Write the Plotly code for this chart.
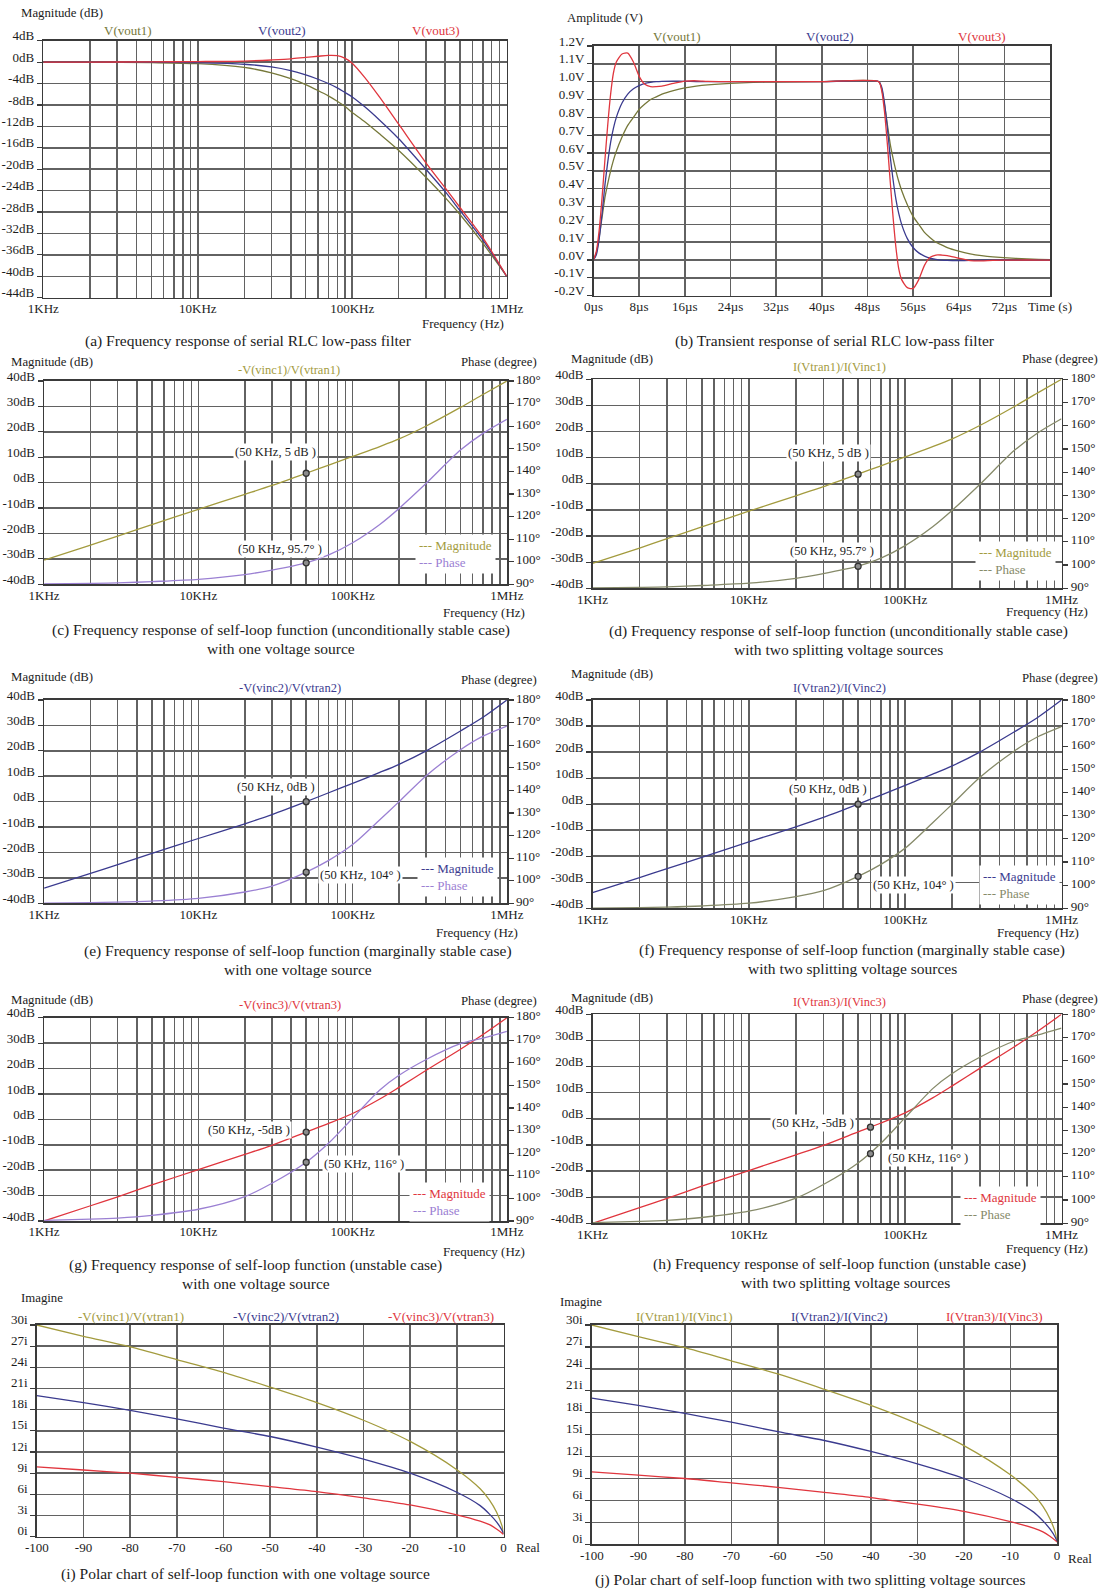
import plotly.graph_objects as go

W, H = 1105, 1589
FONT = "Liberation Serif"

C_OLIVE_A = "#76783a"
C_OLIVE = "#a39b3e"
C_NAVY = "#3b3b8f"
C_RED = "#e0363e"
C_PURPLE = "#9b80d3"
C_GOLIVE = "#868a69"
C_GRID = "#626262"
C_AXIS = "#3a3a3a"
C_TXT = "#1c1c1c"
CAP = 15.5

# ---------------- data ----------------
# (a) serial RLC low-pass, magnitude (dB)
a_freq = [1e3, 2e3, 5e3, 1e4, 2e4, 3e4, 4e4, 5e4, 6e4, 7e4, 8e4, 9e4, 1e5, 1.2e5, 1.5e5, 2e5, 3e5, 4e5, 5e5, 7e5, 1e6]
a_vout1 = [0, 0, -0.1, -0.3, -1.0, -2.0, -3.1, -4.2, -5.3, -6.3, -7.3, -8.3, -9.4, -11.1, -13.4, -16.5, -21.5, -25.3, -28.5, -33.8, -40]
a_vout2 = [0, 0, 0, -0.1, -0.4, -0.9, -1.6, -2.4, -3.2, -4.0, -4.8, -5.7, -6.5, -8.3, -10.8, -14.3, -20.0, -24.2, -27.8, -33.2, -40]
a_vout3 = [0, 0, 0.05, 0.1, 0.2, 0.4, 0.6, 0.9, 1.1, 1.25, 1.2, 0.7, -0.2, -2.8, -6.5, -11.6, -18.8, -23.5, -27.2, -32.8, -40]
a_yticks = [-44, -40, -36, -32, -28, -24, -20, -16, -12, -8, -4, 0, 4]
a_ytext = ["-44dB", "-40dB", "-36dB", "-32dB", "-28dB", "-24dB", "-20dB", "-16dB", "-12dB", "-8dB", "-4dB", "0dB", "4dB"]

# (b) transient response (V) vs time (us)
b_time = [0, 0.5, 1, 1.5, 2, 2.5, 3, 3.5, 4, 5, 6, 7, 8, 9, 10, 11, 12, 14, 16, 18, 20, 24, 28, 32, 40, 50,
          50.5, 51, 51.5, 52, 52.5, 53, 53.5, 54, 55, 56, 57, 58, 59, 60, 61, 62, 64, 66, 68, 70, 74, 78, 80]
b_vout1 = [0, 0.04, 0.13, 0.24, 0.35, 0.43, 0.5, 0.56, 0.61, 0.69, 0.755, 0.80, 0.845, 0.875, 0.9, 0.915, 0.93,
           0.95, 0.965, 0.975, 0.982, 0.991, 0.996, 0.998, 1.0, 1.0,
           0.96, 0.87, 0.76, 0.65, 0.57, 0.5, 0.44, 0.39, 0.31, 0.245, 0.2, 0.155, 0.125, 0.1, 0.085, 0.07,
           0.05, 0.035, 0.025, 0.018, 0.009, 0.004, 0.002]
b_vout2 = [0, 0.03, 0.12, 0.26, 0.42, 0.55, 0.66, 0.74, 0.80, 0.88, 0.93, 0.96, 0.978, 0.99, 0.996, 1.0, 1.002,
           1.003, 1.002, 1.001, 1.0, 1.0, 1.0, 1.0, 1.0, 1.0,
           0.97, 0.88, 0.74, 0.58, 0.45, 0.34, 0.26, 0.2, 0.12, 0.07, 0.04, 0.022, 0.01, 0.004, 0.0, -0.002,
           -0.003, -0.002, -0.001, 0.0, 0.0, 0.0, 0.0]
b_vout3 = [0, 0.05, 0.17, 0.35, 0.56, 0.76, 0.93, 1.05, 1.11, 1.155, 1.16, 1.11, 1.03, 0.985, 0.972, 0.972, 0.975,
           0.99, 1.003, 1.005, 1.002, 1.0, 1.0, 1.0, 1.0, 1.0,
           0.95, 0.83, 0.65, 0.44, 0.24, 0.07, -0.05, -0.11, -0.155, -0.16, -0.11, -0.03, 0.015, 0.028, 0.028, 0.025,
           0.01, -0.003, -0.005, -0.002, 0.0, 0.0, 0.0]
b_yticks = [-0.2, -0.1, 0.0, 0.1, 0.2, 0.3, 0.4, 0.5, 0.6, 0.7, 0.8, 0.9, 1.0, 1.1, 1.2]
b_ytext = ["-0.2V", "-0.1V", "0.0V", "0.1V", "0.2V", "0.3V", "0.4V", "0.5V", "0.6V", "0.7V", "0.8V", "0.9V", "1.0V", "1.1V", "1.2V"]
b_xticks = [0, 8, 16, 24, 32, 40, 48, 56, 64, 72, 80]
b_xtext = ["0µs", "8µs", "16µs", "24µs", "32µs", "40µs", "48µs", "56µs", "64µs", "72µs", "Time (s)"]

# self-loop functions: frequency, magnitude (dB), phase (deg)
sl_freq = [1e3, 2e3, 3e3, 5e3, 1e4, 2e4, 3e4, 5e4, 7e4, 1e5, 1.5e5, 2e5, 3e5, 5e5, 7e5, 1e6]
s1_mag = [-30.5, -24.6, -21.0, -16.5, -10.5, -4.6, -1.1, 3.7, 6.9, 10.3, 14.2, 17.2, 22.3, 29.6, 34.7, 40.0]
s1_phase = [90.2, 90.4, 90.6, 91.2, 92.2, 94.3, 96.3, 99.5, 103.0, 108.4, 116.5, 123.6, 134.7, 149.4, 156.8, 163.0]
s2_mag = [-34.0, -28.2, -24.8, -20.4, -14.5, -8.7, -5.1, 0.0, 3.5, 7.2, 11.5, 14.7, 20.0, 27.8, 33.2, 40.0]
s2_phase = [90.1, 90.3, 90.5, 91.0, 92.2, 95.0, 97.6, 103.8, 109.0, 116.0, 127.0, 135.0, 146.5, 158.0, 164.0, 168.5]
s3_mag = [-40.0, -34.0, -30.5, -25.8, -19.8, -13.8, -10.2, -5.0, -1.6, 2.3, 8.0, 12.6, 19.3, 27.6, 33.4, 40.0]
s3_phase = [90.3, 90.8, 91.3, 92.5, 95.2, 100.8, 106.7, 116.0, 124.5, 135.5, 148.0, 154.5, 161.5, 168.5, 171.0, 174.0]

# marked points
mk1_freq, mk1_mag, mk1_phase = [5e4], [3.7], [99.5]
mk2_freq, mk2_mag, mk2_phase = [5e4], [0.0], [103.8]
mk3_freq, mk3_mag, mk3_phase = [5e4], [-5.0], [116.0]
mk3b_freq, mk3b_mag, mk3b_phase = [6e4], [-3.2], [120.0]

f_ticks = [1e3, 1e4, 1e5, 1e6]
f_text = ["1KHz", "10KHz", "100KHz", "1MHz"]
f_minor = [2e3, 3e3, 4e3, 5e3, 6e3, 7e3, 8e3, 9e3, 2e4, 3e4, 4e4, 5e4, 6e4, 7e4, 8e4, 9e4,
           2e5, 3e5, 4e5, 5e5, 6e5, 7e5, 8e5, 9e5]
mag_ticks = [-40, -30, -20, -10, 0, 10, 20, 30, 40]
mag_text = ["-40dB", "-30dB", "-20dB", "-10dB", "0dB", "10dB", "20dB", "30dB", "40dB"]
ph_ticks = [90, 100, 110, 120, 130, 140, 150, 160, 170, 180]
ph_text = ["90°", "100°", "110°", "120°", "130°", "140°", "150°", "160°", "170°", "180°"]

# (i)/(j) polar chart: real, imaginary
p_real = [-100, -90, -80, -70, -60, -50, -40, -30, -20, -10, -5, -3, -1.5, -0.3, 0]
p_im1 = [30.0, 28.4, 26.9, 25.1, 23.3, 21.2, 19.0, 16.5, 13.5, 9.5, 6.8, 5.2, 3.5, 1.5, 0.4]
p_im2 = [20.0, 19.0, 17.9, 16.7, 15.4, 14.2, 12.7, 11.0, 9.0, 6.3, 4.4, 3.2, 2.1, 0.9, 0.4]
p_im3 = [9.9, 9.45, 9.0, 8.4, 7.8, 7.1, 6.4, 5.5, 4.5, 3.1, 2.2, 1.7, 1.1, 0.5, 0.3]
p_xticks = [-100, -90, -80, -70, -60, -50, -40, -30, -20, -10, 0]
p_xtext = ["-100", "-90", "-80", "-70", "-60", "-50", "-40", "-30", "-20", "-10", "0"]
p_yticks = [0, 3, 6, 9, 12, 15, 18, 21, 24, 27, 30]
p_ytext = ["0i", "3i", "6i", "9i", "12i", "15i", "18i", "21i", "24i", "27i", "30i"]

# ---------------- layout helpers ----------------
fig = go.Figure()
layout = {}
ann = []


def xd(l, r):
    return [l / W, r / W]


def yd(t, b):
    return [1 - b / H, 1 - t / H]


def axn(kind, n):
    return f"{kind}axis" if n == 1 else f"{kind}axis{n}"


def ref(kind, n):
    return kind if n == 1 else f"{kind}{n}"


TICKFONT = dict(family=FONT, size=13, color=C_TXT)


def base(**kw):
    d = dict(showline=True, linecolor=C_AXIS, linewidth=1.6, mirror=True, showgrid=True,
             gridcolor=C_GRID, gridwidth=1.5, zeroline=False, ticks="", fixedrange=True,
             tickfont=TICKFONT, tickmode="array", automargin=False)
    d.update(kw)
    return d


def yleft(**kw):
    d = base(ticks="outside", ticklen=5, tickwidth=1.2, tickcolor=C_AXIS, ticklabelshift=-5)
    d.update(kw)
    return d


def xlog(dom, anchor):
    return base(type="log", range=[3, 6], tickvals=f_ticks, ticktext=f_text, domain=dom, anchor=anchor,
                ticklabelstandoff=-2,
                minor=dict(tickmode="array", tickvals=f_minor, showgrid=True, gridcolor=C_GRID, gridwidth=1.5))


def T(x, y, s, size=13, color=C_TXT, xa="center", bg=None, pad=1, align="center"):
    d = dict(x=x / W, y=1 - y / H, xref="paper", yref="paper", text=s, showarrow=False,
             xanchor=xa, yanchor="middle", align=align, font=dict(family=FONT, size=size, color=color))
    if bg:
        d.update(bgcolor=bg, borderpad=pad)
    ann.append(d)


def line(x, y, xn, yn, color, width=1.3, smooth=0.8):
    fig.add_trace(go.Scatter(x=x, y=y, xaxis=ref("x", xn), yaxis=ref("y", yn), mode="lines",
                             line=dict(color=color, width=width, shape="spline", smoothing=smooth),
                             hoverinfo="skip", showlegend=False))


def mark(x, y, xn, yn):
    fig.add_trace(go.Scatter(x=x, y=y, xaxis=ref("x", xn), yaxis=ref("y", yn), mode="markers",
                             marker=dict(size=6, color="#8c8c8c", line=dict(color="#333333", width=1.3)),
                             hoverinfo="skip", showlegend=False))


# ---------------- (a) ----------------
layout[axn("x", 1)] = xlog(xd(43.3, 506.7), "y")
layout[axn("y", 1)] = yleft(range=[-44, 4], tickvals=a_yticks, ticktext=a_ytext, domain=yd(40.7, 297.7), anchor="x")
line(a_freq, a_vout1, 1, 1, C_OLIVE_A)
line(a_freq, a_vout2, 1, 1, C_NAVY)
line(a_freq, a_vout3, 1, 1, C_RED)
T(19, 13, "Magnitude (dB)", 12.8, xa="left")
T(128, 31, "V(vout1)", 13, C_OLIVE_A)
T(282, 31, "V(vout2)", 13, C_NAVY)
T(436, 31, "V(vout3)", 13, C_RED)
T(506, 323, "Frequency (Hz)", 13, xa="right")
T(248, 341, "(a) Frequency response of serial RLC low-pass filter", CAP)

# ---------------- (b) ----------------
layout[axn("x", 2)] = base(range=[0, 80], tickvals=b_xticks, ticktext=b_xtext, domain=xd(593.5, 1050), anchor="y2",
                           ticklabelstandoff=-2)
layout[axn("y", 2)] = yleft(range=[-0.2, 1.2], tickvals=b_yticks, ticktext=b_ytext, domain=yd(46, 295.7), anchor="x2")
line(b_time, b_vout1, 2, 2, C_OLIVE_A, smooth=0.6)
line(b_time, b_vout2, 2, 2, C_NAVY, smooth=0.6)
line(b_time, b_vout3, 2, 2, C_RED, smooth=0.6)
T(565, 18, "Amplitude (V)", 12.8, xa="left")
T(677, 37, "V(vout1)", 13, C_OLIVE_A)
T(830, 37, "V(vout2)", 13, C_NAVY)
T(982, 37, "V(vout3)", 13, C_RED)
T(835, 341, "(b) Transient response of serial RLC low-pass filter", CAP)


# ---------------- bode panels ----------------
def bode(xn, yl, yr, box, mag, phase, mfreq, mmag, mphase, cmag, cph):
    l, r, t, b = box
    layout[axn("x", xn)] = xlog(xd(l, r), ref("y", yl))
    layout[axn("y", yl)] = yleft(range=[-40, 40], tickvals=mag_ticks, ticktext=mag_text, domain=yd(t, b),
                                 anchor=ref("x", xn))
    layout[axn("y", yr)] = base(range=[90, 180], tickvals=ph_ticks, ticktext=ph_text, overlaying=ref("y", yl),
                                anchor=ref("x", xn), side="right", showgrid=False, mirror=False,
                                ticks="outside", ticklen=5, tickwidth=1.2, tickcolor=C_AXIS, ticklabelshift=-2)
    line(sl_freq, mag, xn, yl, cmag)
    line(sl_freq, phase, xn, yr, cph)
    mark(mfreq, mmag, xn, yl)
    mark(mfreq, mphase, xn, yr)


def legend_box(x, y, cmag, cph):
    T(x, y, f"<span style='color:{cmag}'>--- Magnitude</span><br><span style='color:{cph}'>--- Phase</span>",
      13, xa="left", bg="white", pad=3, align="left")


LEFTBOX = (44.1, 506.9)
RIGHTBOX = (592.5, 1061.5)

# (c)
bode(3, 3, 4, (*LEFTBOX, 381, 584.3), s1_mag, s1_phase, mk1_freq, mk1_mag, mk1_phase, C_OLIVE, C_PURPLE)
T(8.6, 362, "Magnitude (dB)", 12.8, xa="left")
T(539, 362, "Phase (degree)", 12.8, xa="right")
T(289, 370, "-V(vinc1)/V(vtran1)", 12.5, C_OLIVE)
T(275, 452, "(50 KHz, 5 dB )", 12.5, bg="white")
T(280, 549, "(50 KHz, 95.7° )", 12.5, bg="white")
legend_box(415, 554, C_OLIVE, C_PURPLE)
T(527, 612, "Frequency (Hz)", 13, xa="right")
T(281, 630, "(c) Frequency response of self-loop function (unconditionally stable case)", CAP)
T(281, 648, "with one voltage source", CAP)

# (d)
bode(4, 5, 6, (*RIGHTBOX, 379.3, 588.3), s1_mag, s1_phase, mk1_freq, mk1_mag, mk1_phase, C_OLIVE, C_GOLIVE)
T(569.5, 359, "Magnitude (dB)", 12.8, xa="left")
T(1100, 359, "Phase (degree)", 12.8, xa="right")
T(839.5, 367, "I(Vtran1)/I(Vinc1)", 12.5, C_OLIVE)
T(828.6, 453, "(50 KHz, 5 dB )", 12.5, bg="white")
T(832, 551, "(50 KHz, 95.7° )", 12.5, bg="white")
legend_box(975, 561, C_OLIVE, C_GOLIVE)
T(1090, 611, "Frequency (Hz)", 13, xa="right")
T(838.5, 631, "(d) Frequency response of self-loop function (unconditionally stable case)", CAP)
T(838.5, 649, "with two splitting voltage sources", CAP)

# (e)
bode(5, 7, 8, (*LEFTBOX, 700, 903.3), s2_mag, s2_phase, mk2_freq, mk2_mag, mk2_phase, C_NAVY, C_PURPLE)
T(8.6, 677, "Magnitude (dB)", 12.8, xa="left")
T(539, 680, "Phase (degree)", 12.8, xa="right")
T(290, 688, "-V(vinc2)/V(vtran2)", 12.5, C_NAVY)
T(275.5, 787, "(50 KHz, 0dB )", 12.5, bg="white")
T(360, 875, "(50 KHz, 104° )", 12.5, bg="white")
legend_box(417, 877.5, C_NAVY, C_PURPLE)
T(520, 932, "Frequency (Hz)", 13, xa="right")
T(298, 951, "(e) Frequency response of self-loop function (marginally stable case)", CAP)
T(298, 969, "with one voltage source", CAP)

# (f)
bode(6, 9, 10, (*RIGHTBOX, 700, 908.3), s2_mag, s2_phase, mk2_freq, mk2_mag, mk2_phase, C_NAVY, C_GOLIVE)
T(569.5, 674, "Magnitude (dB)", 12.8, xa="left")
T(1100, 678, "Phase (degree)", 12.8, xa="right")
T(839.5, 688, "I(Vtran2)/I(Vinc2)", 12.5, C_NAVY)
T(828, 789, "(50 KHz, 0dB )", 12.5, bg="white")
T(913, 885, "(50 KHz, 104° )", 12.5, bg="white")
legend_box(979, 885, C_NAVY, C_GOLIVE)
T(1081, 932, "Frequency (Hz)", 13, xa="right")
T(852, 950, "(f) Frequency response of self-loop function (marginally stable case)", CAP)
T(852, 968, "with two splitting voltage sources", CAP)

# (g)
bode(7, 11, 12, (*LEFTBOX, 1017.7, 1221), s3_mag, s3_phase, mk3_freq, mk3_mag, mk3_phase, C_RED, C_PURPLE)
T(8.6, 1000, "Magnitude (dB)", 12.8, xa="left")
T(539, 1001, "Phase (degree)", 12.8, xa="right")
T(290, 1005, "-V(vinc3)/V(vtran3)", 12.5, C_RED)
T(248.6, 1130, "(50 KHz, -5dB )", 12.5, bg="white")
T(364, 1164, "(50 KHz, 116° )", 12.5, bg="white")
legend_box(409, 1201.5, C_RED, C_PURPLE)
T(527, 1251, "Frequency (Hz)", 13, xa="right")
T(255, 1265, "(g) Frequency response of self-loop function (unstable case)", CAP)
T(256, 1283, "with one voltage source", CAP)

# (h)
bode(8, 13, 14, (*RIGHTBOX, 1014.3, 1223.3), s3_mag, s3_phase, mk3b_freq, mk3b_mag, mk3b_phase, C_RED, C_GOLIVE)
T(569.5, 998, "Magnitude (dB)", 12.8, xa="left")
T(1100, 999, "Phase (degree)", 12.8, xa="right")
T(839.5, 1002, "I(Vtran3)/I(Vinc3)", 12.5, C_RED)
T(812.6, 1123, "(50 KHz, -5dB )", 12.5, bg="white")
T(928, 1158, "(50 KHz, 116° )", 12.5, bg="white")
legend_box(960, 1206, C_RED, C_GOLIVE)
T(1090, 1248, "Frequency (Hz)", 13, xa="right")
T(839.5, 1264, "(h) Frequency response of self-loop function (unstable case)", CAP)
T(846, 1282, "with two splitting voltage sources", CAP)


# ---------------- polar panels ----------------
def polar(xn, yn, box):
    l, r, t, b = box
    layout[axn("x", xn)] = base(range=[-100, 0], tickvals=p_xticks, ticktext=p_xtext, domain=xd(l, r),
                                anchor=ref("y", yn), ticklabelstandoff=-2)
    layout[axn("y", yn)] = yleft(range=[0, 30], tickvals=p_yticks, ticktext=p_ytext, domain=yd(t, b),
                                 anchor=ref("x", xn), ticklabelshift=-6)
    line(p_real, p_im1, xn, yn, C_OLIVE)
    line(p_real, p_im2, xn, yn, C_NAVY)
    line(p_real, p_im3, xn, yn, C_RED)


polar(9, 15, (36.8, 503.5, 1325, 1536.7))
T(18.9, 1298, "Imagine", 12.8, xa="left")
T(131, 1316, "-V(vinc1)/V(vtran1)", 13, C_OLIVE)
T(286, 1316, "-V(vinc2)/V(vtran2)", 13, C_NAVY)
T(441, 1316, "-V(vinc3)/V(vtran3)", 13, C_RED)
T(528, 1547, "Real", 13)
T(245, 1574, "(i) Polar chart of self-loop function with one voltage source", CAP)

polar(10, 16, (591.8, 1056.9, 1325, 1544.3))
T(557.8, 1302, "Imagine", 12.8, xa="left")
T(684.5, 1316, "I(Vtran1)/I(Vinc1)", 13, C_OLIVE)
T(839, 1316, "I(Vtran2)/I(Vinc2)", 13, C_NAVY)
T(994, 1316, "I(Vtran3)/I(Vinc3)", 13, C_RED)
T(1080, 1558, "Real", 13)
T(810, 1580, "(j) Polar chart of self-loop function with two splitting voltage sources", CAP)

fig.update_layout(width=W, height=H, margin=dict(l=0, r=0, t=0, b=0, pad=0, autoexpand=False), autosize=False,
                  paper_bgcolor="white", plot_bgcolor="white", showlegend=False, hovermode=False,
                  font=dict(family=FONT, size=13, color=C_TXT), annotations=ann, **layout)

fig.write_html("out.html", include_plotlyjs=True, full_html=True,
               config={"displayModeBar": False, "staticPlot": True, "responsive": False},
               post_script="document.body.style.margin='0px';document.body.style.overflow='hidden';")
